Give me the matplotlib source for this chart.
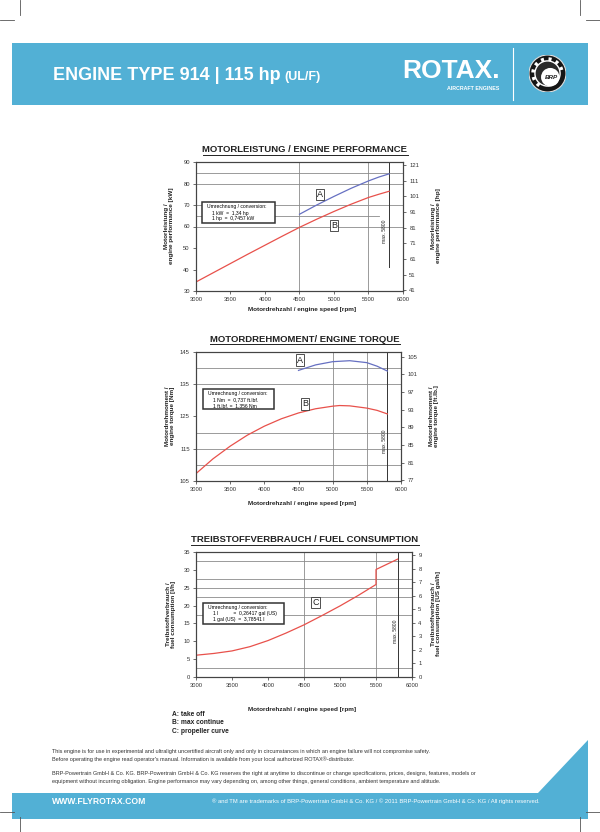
import matplotlib
matplotlib.use('Agg')
import matplotlib.pyplot as plt
from matplotlib.patches import Rectangle, Polygon, Circle, Wedge
from matplotlib.lines import Line2D

# ---------------- data ----------------
rpm_ticks = [3000, 3500, 4000, 4500, 5000, 5500, 6000]

perf_rpm_B = [3000, 3250, 3500, 3750, 4000, 4250, 4500, 4750, 5000, 5250, 5500, 5650, 5800]
perf_kw_B = [34.2, 38.5, 42.8, 47.1, 51.3, 55.5, 59.6, 63.4, 67.0, 70.4, 73.5, 75.0, 76.4]
perf_rpm_A = [4500, 4750, 5000, 5250, 5500, 5650, 5800]
perf_kw_A = [65.7, 70.0, 74.0, 77.8, 81.2, 83.0, 84.5]

torque_rpm_B = [3000, 3250, 3500, 3750, 4000, 4250, 4500, 4750, 5000, 5100, 5250, 5500, 5650, 5800]
torque_nm_B = [107.3, 111.9, 115.8, 119.2, 122.0, 124.3, 126.1, 127.4, 128.2, 128.4, 128.3, 127.6, 126.9, 125.8]
torque_rpm_A = [4500, 4750, 5000, 5250, 5500, 5650, 5800]
torque_nm_A = [139.3, 141.0, 142.0, 142.3, 141.7, 140.6, 139.1]

fuel_rpm_C = [3000, 3250, 3500, 3750, 4000, 4250, 4500, 4750, 5000, 5250, 5500, 5500, 5800]
fuel_lh_C = [6.1, 6.6, 7.3, 8.5, 10.2, 12.3, 14.6, 17.2, 19.9, 22.8, 25.9, 30.1, 33.0]

perf_kw_ticks = [30, 40, 50, 60, 70, 80, 90]
perf_hp_ticks = [41, 51, 61, 71, 81, 91, 101, 111, 121]
torque_nm_ticks = [105, 115, 125, 135, 145]
torque_ft_ticks = [77, 81, 85, 89, 93, 97, 101, 105]
fuel_l_ticks = [0, 5, 10, 15, 20, 25, 30, 35]
fuel_gal_ticks = [0, 1, 2, 3, 4, 5, 6, 7, 8, 9]

legend_lines = ["A: take off", "B: max continue", "C: propeller curve"]

# ---------------- figure ----------------
W, H = 600, 832
fig = plt.figure(figsize=(6, 8.32), dpi=100)
plt.rcParams['font.family'] = ['Liberation Sans', 'DejaVu Sans']

BLUE_BAND = '#52B0D5'
RED = '#E8514B'
BLUE = '#6670C2'
GRID = '#8a8a8a'
FRAME = '#444444'


def fx(x):
    return x / W


def fy(y):
    return 1 - y / H


def add_ax(x0, y0, x1, y1, **kw):
    return fig.add_axes([fx(x0), fy(y1), (x1 - x0) / W, (y1 - y0) / H], **kw)


def style(ax):
    for s in ax.spines.values():
        s.set_color(FRAME)
        s.set_linewidth(0.8)
    ax.tick_params(labelsize=4.2, length=2, width=0.5, pad=2.5, colors='#333333')


def ftext(x, y, s, **kw):
    return fig.text(fx(x), fy(y), s, **kw)


# ---------------- header ----------------
fig.patches.append(Rectangle((fx(12), fy(105)), (588 - 12) / W, 62 / H,
                             transform=fig.transFigure, fc=BLUE_BAND, ec='none', zorder=-1))
head = ftext(53, 76, "ENGINE TYPE 914 | 115 hp", fontweight='bold', fontsize=13,
             color='white', va='center', ha='left')
ftext(500, 71, "ROTAX.", fontweight='heavy', fontsize=19, color='white', va='center', ha='right')
ftext(499, 89, "AIRCRAFT ENGINES", fontweight='bold', fontsize=3.8, color='white', va='center', ha='right')
fig.add_artist(Line2D([fx(513), fx(513)], [fy(48), fy(100)], transform=fig.transFigure,
                      color='white', lw=0.8))

# BRP logo
axl = add_ax(529, 55, 566, 92)
axl.set_zorder(10)
axl.set_xlim(-1, 1)
axl.set_ylim(-1, 1)
axl.axis('off')
axl.add_patch(Circle((0, 0), 1.0, fc='#151515', ec='#dddddd', lw=0.8))
for i in range(8):
    ang = 20 + i * 30
    axl.add_patch(Wedge((0, 0), 0.88, ang - 6, ang + 6, width=0.2, fc='white', ec='none'))
axl.add_patch(Circle((0, 0), 0.68, fc='#2a2a2a', ec='white', lw=1.0))
axl.add_patch(Circle((0.15, -0.2), 0.5, fc='white', ec='none'))
axl.text(0.2, -0.22, "BRP", fontsize=4.5, fontweight='bold', fontstyle='italic', color='#222222',
         ha='center', va='center')

# crop marks
for (xa, ya, xb, yb) in [(20, 0, 20, 15), (0, 20, 14, 20), (580, 0, 580, 15), (586, 20, 600, 20),
                         (20, 817, 20, 832), (0, 812, 14, 812), (580, 817, 580, 832), (586, 812, 600, 812)]:
    fig.add_artist(Line2D([fx(xa), fx(xb)], [fy(ya), fy(yb)], transform=fig.transFigure,
                          color='#555555', lw=0.6))

# ---------------- titles helper ----------------
def title(xc, y, s):
    t = ftext(xc, y, s, fontsize=6.8, fontweight='bold', ha='center', va='center', color='#222222')
    return t


titles = [title(305, 150, "MOTORLEISTUNG / ENGINE PERFORMANCE"),
          title(305, 339, "MOTORDREHMOMENT/ ENGINE TORQUE"),
          title(305, 540, "TREIBSTOFFVERBRAUCH / FUEL CONSUMPTION")]


def label_box(ax, x, y, s):
    ax.text(x, y, s, fontsize=6.5, ha='center', va='center', color='#222222',
            bbox=dict(boxstyle='square,pad=0.12', fc='white', ec='#333333', lw=0.6), zorder=6)


def conv_box(x0, y0, x1, y1, lines):
    fig.patches.append(Rectangle((fx(x0), fy(y1)), (x1 - x0) / W, (y1 - y0) / H,
                                 transform=fig.transFigure, fc='white', ec='#333333', lw=1.1, zorder=5))
    ftext(x0 + 5, y0 + 4.5, lines[0], fontsize=3.6, va='center', ha='left', zorder=6)
    for i, l in enumerate(lines[1:]):
        ftext(x0 + 10, y0 + 11 + 5.5 * i, l, fontsize=3.6, va='center', ha='left', zorder=6)


def xlabel(y):
    ftext(302, y, "Motordrehzahl / engine speed [rpm]", fontsize=4.6, fontweight='bold',
          ha='center', va='center', color='#222222')


def ylabel(x, y, s):
    ftext(x, y, s, fontsize=4.6, fontweight='bold', rotation=90, ha='center', va='center',
          color='#222222', multialignment='center')


def max_text(ax, x, y):
    ax.text(x, y, "max. 5800", fontsize=3.6, rotation=90, ha='center', va='center', color='#222222', zorder=6)


# ---------------- chart 1: performance ----------------
ax1 = add_ax(196, 162, 403, 291)
style(ax1)
ax1.set_xlim(3000, 6000)
ax1.set_ylim(30, 90)
ax1.set_xticks(rpm_ticks)
ax1.set_yticks(perf_kw_ticks)
for v in [85, 80, 70, 60]:
    ax1.axhline(v, color=GRID, lw=0.6, zorder=1)
ax1.plot([3000, 5650], [65, 65], color=GRID, lw=0.6, zorder=1)
for v in [4500, 5500]:
    ax1.axvline(v, color=GRID, lw=0.6, zorder=1)
ax1.plot([5800, 5800], [41, 90], color='#333333', lw=0.7, zorder=2)
ax1.plot(perf_rpm_B, perf_kw_B, color=RED, lw=0.9, zorder=3)
ax1.plot(perf_rpm_A, perf_kw_A, color=BLUE, lw=0.9, zorder=3)
label_box(ax1, 4800, 74.8, "A")
label_box(ax1, 5000, 60.6, "B")
max_text(ax1, 5725, 57.8)
ax1r = ax1.twinx()
style(ax1r)
ax1r.set_ylim(40.6, 122.9)
ax1r.set_yticks(perf_hp_ticks)
conv_box(202, 202, 275, 223, ["Umrechnung / conversion:", "1 kW  =  1,34 hp", "1 hp  =  0,7457 kW"])
ylabel(169, 226, "Motorleistung /\nengine performance [kW]")
ylabel(436, 226, "Motorleistung /\nengine performance [hp]")
xlabel(310)

# ---------------- chart 2: torque ----------------
ax2 = add_ax(196, 352, 401, 481)
style(ax2)
ax2.set_xlim(3000, 6000)
ax2.set_ylim(105, 145)
ax2.set_xticks(rpm_ticks)
ax2.set_yticks(torque_nm_ticks)
for v in [110, 115, 120, 135, 140]:
    ax2.axhline(v, color=GRID, lw=0.6, zorder=1)
for v in [5000, 5500]:
    ax2.axvline(v, color=GRID, lw=0.6, zorder=1)
ax2.axvline(5800, color='#333333', lw=0.7, zorder=2)
ax2.plot(torque_rpm_B, torque_nm_B, color=RED, lw=0.9, zorder=3)
ax2.plot(torque_rpm_A, torque_nm_A, color=BLUE, lw=0.9, zorder=3)
label_box(ax2, 4520, 142.5, "A")
label_box(ax2, 4600, 128.9, "B")
max_text(ax2, 5755, 117.4)
ax2r = ax2.twinx()
style(ax2r)
ax2r.set_ylim(76.8, 106.1)
ax2r.set_yticks(torque_ft_ticks)
conv_box(203, 389, 274, 409, ["Umrechnung / conversion:", "1 Nm  =  0,737 ft.lbf.", "1 ft.lbf. =  1,356 Nm"])
ylabel(170, 416, "Motordrehmoment /\nengine torque [Nm]")
ylabel(434, 416, "Motordrehmoment /\nengine torque [ft.lb.]")
xlabel(503)

# ---------------- chart 3: fuel ----------------
ax3 = add_ax(196, 552, 412, 677)
style(ax3)
ax3.set_xlim(3000, 6000)
ax3.set_ylim(0, 35)
ax3.set_xticks(rpm_ticks)
ax3.set_yticks(fuel_l_ticks)
for v in [2.5, 17.5, 22.5, 25, 27.5, 32.5]:
    ax3.axhline(v, color=GRID, lw=0.6, zorder=1)
for v in [4500, 5500]:
    ax3.axvline(v, color=GRID, lw=0.6, zorder=1)
ax3.axvline(5800, color='#333333', lw=0.7, zorder=2)
ax3.plot(fuel_rpm_C, fuel_lh_C, color=RED, lw=0.9, zorder=3)
label_box(ax3, 4663, 20.8, "C")
max_text(ax3, 5764, 12.8)
ax3r = ax3.twinx()
style(ax3r)
ax3r.set_ylim(0, 9.25)
ax3r.set_yticks(fuel_gal_ticks)
conv_box(203, 603, 284, 624, ["Umrechnung / conversion:", "1 l           =  0,26417 gal (US)",
                              "1 gal (US)  =  3,78541 l"])
ylabel(171, 614, "Treibstoffverbrauch /\nfuel consumption [l/h]")
ylabel(436, 614, "Treibstoffverbrauch /\nfuel consumption [US gal/h]")
xlabel(709)

for i, l in enumerate(legend_lines):
    ftext(172, 714.5 + 8.5 * i, l, fontsize=4.8, fontweight='bold', ha='left', va='center', color='#222222')

# ---------------- footer ----------------
disc = ["This engine is for use in experimental and ultralight uncertified aircraft only and only in circumstances in which an engine failure will not compromise safety.",
        "Before operating the engine read operator's manual. Information is available from your local authorized ROTAX\u00ae-distributor.",
        "BRP-Powertrain GmbH & Co. KG. BRP-Powertrain GmbH & Co. KG reserves the right at anytime to discontinue or change specifications, prices, designs, features, models or",
        "equipment without incurring obligation. Engine performance may vary depending on, among other things, general conditions, ambient temperature and altitude."]
for y, l in zip([751.5, 759, 773, 781], disc):
    ftext(52, y, l, fontsize=4.0, ha='left', va='center', color='#333333')

fig.patches.append(Polygon([(fx(12), fy(793)), (fx(538), fy(793)), (fx(588), fy(740)),
                            (fx(588), fy(819)), (fx(12), fy(819))], closed=True,
                           transform=fig.transFigure, fc=BLUE_BAND, ec='none', zorder=-1))
ftext(52, 801, "WWW.FLYROTAX.COM", fontsize=6.2, fontweight='bold', color='white', ha='left', va='center')
ftext(540, 801, "\u00ae and TM are trademarks of BRP-Powertrain GmbH & Co. KG / \u00a9 2011 BRP-Powertrain GmbH & Co. KG / All rights reserved.",
      fontsize=4.2, color='white', ha='right', va='center')

# layout-dependent pieces
fig.canvas.draw()
r = fig.canvas.get_renderer()
hb = head.get_window_extent(r)
fig.text((hb.x1 + 4) / W, fy(77), "(UL/F)", fontweight='bold', fontsize=9, color='white',
         va='center', ha='left')
for t in titles:
    bb = t.get_window_extent(r)
    yl = (bb.y0 - 0.5) / H
    fig.add_artist(Line2D([bb.x0 / W, bb.x1 / W], [yl, yl], transform=fig.transFigure,
                          color='#222222', lw=0.7))

fig.savefig('out.png', dpi=100)
